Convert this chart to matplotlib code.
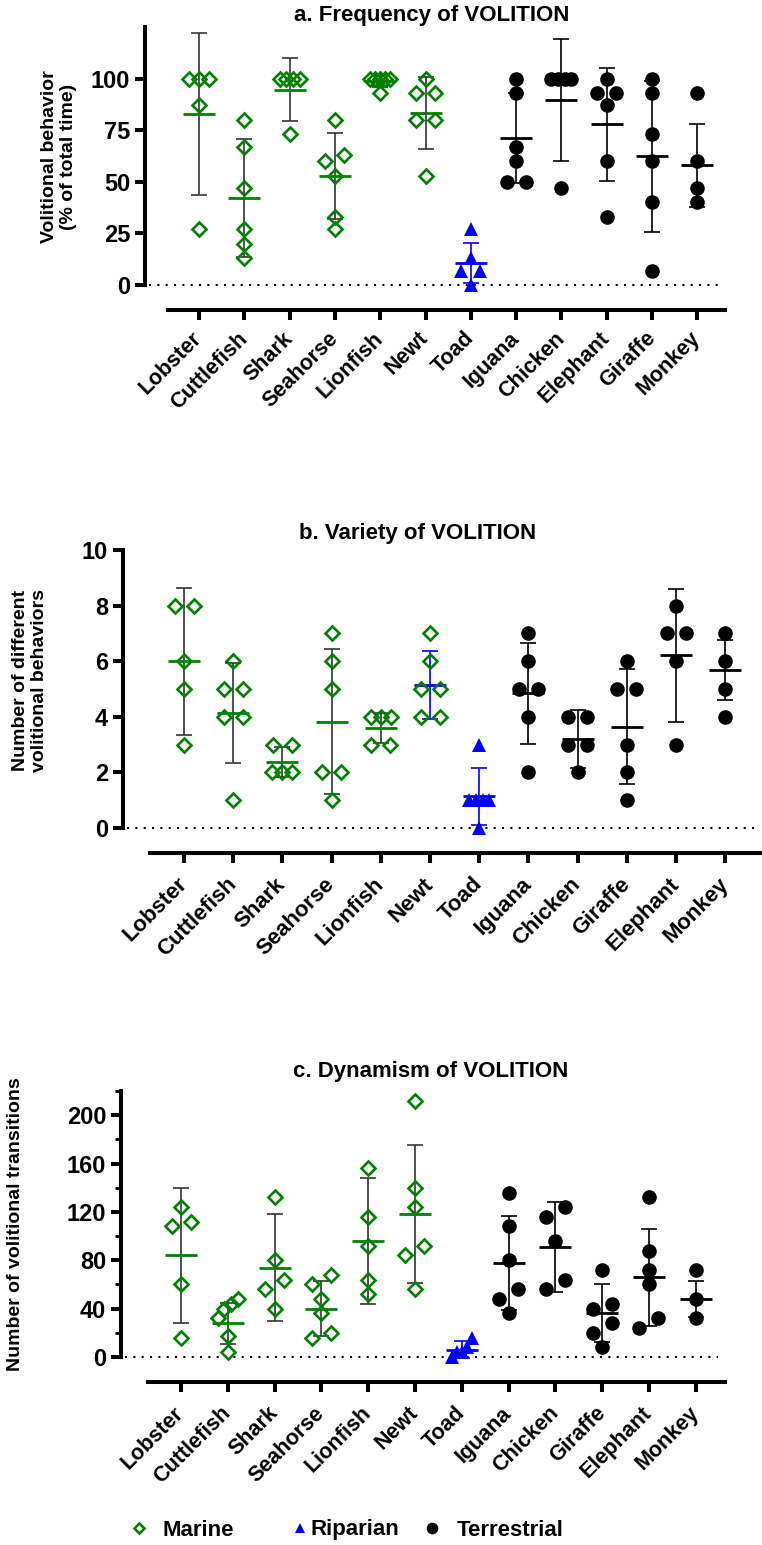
import numpy as np
import matplotlib
matplotlib.use('Agg')
import matplotlib.pyplot as plt
from matplotlib.lines import Line2D
from matplotlib.ticker import MultipleLocator

W, H, DPI = 762, 1545, 100
plt.rcParams['font.family'] = ['Liberation Sans', 'DejaVu Sans']
plt.rcParams['font.weight'] = 'bold'

# ---- data ----
cats_a = ['Lobster', 'Cuttlefish', 'Shark', 'Seahorse', 'Lionfish', 'Newt', 'Toad',
          'Iguana', 'Chicken', 'Elephant', 'Giraffe', 'Monkey']
cats_bc = ['Lobster', 'Cuttlefish', 'Shark', 'Seahorse', 'Lionfish', 'Newt', 'Toad',
           'Iguana', 'Chicken', 'Giraffe', 'Elephant', 'Monkey']
habitat = ['Marine'] * 6 + ['Riparian'] + ['Terrestrial'] * 5

freq_pts = [[100, 100, 100, 87, 27], [80, 67, 47, 27, 20, 13], [100, 100, 100, 100, 73],
            [80, 63, 60, 53, 33, 27], [100, 100, 100, 100, 100, 93], [100, 93, 93, 80, 80, 53],
            [27, 13, 7, 7, 0], [100, 93, 67, 60, 50, 50], [100, 100, 100, 100, 47],
            [100, 93, 93, 87, 60, 33], [100, 93, 73, 60, 40, 7], [93, 60, 47, 40]]
freq_mean = [82.8, 42.3, 94.7, 52.8, 98.8, 83.3, 10.6, 71.3, 89.6, 77.8, 62.3, 58.0]
freq_sd = [39.4, 28.5, 15.2, 20.8, 2.9, 17.5, 9.6, 21.7, 29.6, 27.2, 36.5, 20.0]

var_pts = [[8, 8, 6, 5, 3], [6, 5, 5, 4, 4, 1], [3, 3, 2, 2, 2], [7, 6, 5, 2, 2, 1],
           [4, 4, 4, 3, 3], [7, 6, 5, 5, 4, 4], [3, 1, 1, 1, 1, 0], [7, 6, 5, 5, 4, 2],
           [4, 4, 3, 3, 2], [6, 5, 5, 3, 2, 1], [8, 7, 7, 6, 3], [7, 6, 5, 4]]
var_mean = [6.0, 4.14, 2.38, 3.83, 3.6, 5.15, 1.14, 4.85, 3.21, 3.65, 6.21, 5.68]
var_sd = [2.65, 1.8, 0.55, 2.6, 0.55, 1.22, 1.03, 1.82, 1.05, 2.07, 2.4, 1.08]

dyn_pts = [[124, 112, 108, 60, 16], [48, 44, 40, 32, 17, 4], [132, 80, 64, 56, 40],
           [68, 60, 48, 36, 20, 16], [156, 116, 92, 64, 52], [212, 140, 124, 92, 84, 56],
           [16, 8, 4, 4, 0], [136, 108, 80, 56, 48, 36], [124, 116, 96, 64, 56],
           [72, 44, 40, 28, 20, 8], [132, 88, 72, 60, 32, 24], [72, 48, 32]]
dyn_mean = [84, 28, 74, 40, 96, 118, 6, 78, 91, 36, 66, 48]
dyn_sd = [56, 17, 44, 23, 52, 57, 7, 39, 37, 24, 40, 15]

GREEN, BLUE = '#008000', '#0000ff'
style = {
    'Marine': dict(marker='D', mfc='none', mec=GREEN, mew=1.9, ms=7, mean_c=GREEN, err_c='#333333'),
    'Riparian': dict(marker='^', mfc=BLUE, mec=BLUE, mew=0, ms=9.5, mean_c=BLUE, err_c=BLUE),
    'Terrestrial': dict(marker='o', mfc='black', mec='black', mew=0, ms=10.5, mean_c='black', err_c='black'),
}

fig = plt.figure(figsize=(W / DPI, H / DPI), dpi=DPI)


def fx(x):
    return x / W


def fy(y):
    return 1 - y / H


def spread_offsets(vals, px_per_unit, thr=11.0):
    # group points that would overlap vertically, spread them sideways (pixels)
    order = np.argsort(vals)[::-1]
    offs = np.zeros(len(vals))
    groups, cur = [], [order[0]]
    for i in order[1:]:
        if (vals[cur[-1]] - vals[i]) * px_per_unit < thr:
            cur.append(i)
        else:
            groups.append(cur)
            cur = [i]
    groups.append(cur)
    for g in groups:
        n = len(g)
        if n == 2:
            o = [9.5, -9.5]
        elif n > 2:
            o = np.linspace(10, -10, n)
        else:
            o = [0]
        for k, i in enumerate(g):
            offs[i] = o[k]
    return offs


def panel(left, top, right, bottom, first, step, ymax, cats, pts, means, sds,
          yticks, xfont, x_axis_start, zero_end, minor=None, err_over=None, xpad=13):
    ax = fig.add_axes([fx(left), fy(bottom), fx(right - left), (bottom - top) / H])
    x0 = (left - first) / step
    x1 = (right - first) / step
    ax.set_xlim(x0, x1)
    ax.set_ylim(0, ymax)
    ppu_y = (bottom - top) / ymax
    for i, (v, m, s) in enumerate(zip(pts, means, sds)):
        st = style[habitat[i]]
        ec = st['err_c']
        mc = st['mean_c']
        if err_over and cats[i] in err_over:
            ec = mc = err_over[cats[i]]
        ax.errorbar(i, m, yerr=s, fmt='none', ecolor=ec, elinewidth=1.2,
                    capsize=6, capthick=1.2, zorder=2, clip_on=False)
        ax.hlines(m, i - 16 / step, i + 16 / step, color=mc, lw=2.0, zorder=2, clip_on=False)
        v = np.array(v, dtype=float)
        xs = i + spread_offsets(v, ppu_y) / step
        ax.plot(xs, v, ls='none', marker=st['marker'], mfc=st['mfc'], mec=st['mec'],
                mew=st['mew'], ms=st['ms'], zorder=3, clip_on=False)
    ax.plot([x0 + 4 / step, (zero_end - first) / step], [0, 0], color='black',
            ls=(0, (1, 3)), lw=1.5, zorder=1, clip_on=False)

    for sp in ['top', 'right']:
        ax.spines[sp].set_visible(False)
    ax.spines['left'].set_linewidth(2.9)
    ax.spines['left'].set_bounds(0, ymax)
    ax.spines['bottom'].set_linewidth(2.9)
    ax.spines['bottom'].set_position(('outward', 18))
    ax.spines['bottom'].set_bounds((x_axis_start - first) / step, x1)
    ax.set_yticks(yticks)
    ax.set_yticklabels([str(t) for t in yticks], fontsize=17, fontweight='bold')
    if minor:
        ax.yaxis.set_minor_locator(MultipleLocator(minor))
        ax.tick_params(axis='y', which='minor', length=4, width=2.0)
    ax.set_xticks(range(len(cats)))
    ax.set_xticklabels(cats, rotation=45, ha='right', va='center', rotation_mode='anchor',
                       fontsize=xfont, fontweight='bold')
    ax.tick_params(axis='both', which='major', length=7.2, width=2.9, pad=3.5)
    ax.tick_params(axis='x', pad=xpad)
    ax.patch.set_visible(False)
    return ax


panel(145, 27, 725, 285, 199, 45.3, 125, cats_a, freq_pts, freq_mean, freq_sd,
      [0, 25, 50, 75, 100], 15.5, 168, 718, xpad=11)
panel(123, 550, 762, 828, 184, 49.2, 10, cats_bc, var_pts, var_mean, var_sd,
      [0, 2, 4, 6, 8, 10], 16, 150, 760, err_over={'Newt': BLUE})
panel(121, 1091, 725, 1357, 181, 46.8, 220, cats_bc, dyn_pts, dyn_mean, dyn_sd,
      [0, 40, 80, 120, 160, 200], 15.5, 148, 718, minor=20)

# titles
fig.text(fx(432), fy(15), 'a. Frequency of VOLITION', ha='center', va='center',
         fontsize=16, fontweight='bold')
fig.text(fx(418), fy(533), 'b. Variety of VOLITION', ha='center', va='center',
         fontsize=16, fontweight='bold')
fig.text(fx(431), fy(1072), 'c. Dynamism of VOLITION', ha='center', va='center',
         fontsize=16, fontweight='bold')

# y labels
fig.text(fx(59), fy(157), 'Volitional behavior\n(% of total time)', rotation=90,
         ha='center', va='center', multialignment='center', fontsize=14, fontweight='bold')
fig.text(fx(30), fy(680), 'Number of different\nvolitional behaviors', rotation=90,
         ha='center', va='center', multialignment='center', fontsize=14, fontweight='bold')
fig.text(fx(16), fy(1224), 'Number of volitional transitions', rotation=90,
         ha='center', va='center', fontsize=14, fontweight='bold')

# legend
leg_items = [('Marine', 138, 0.58), ('Riparian', 299, 0.0), ('Terrestrial', 431, 0.63)]
for name, xc, pad in leg_items:
    st = style[name]
    h = Line2D([], [], ls='none', marker=st['marker'], mfc=st['mfc'], mec=st['mec'],
               mew=st['mew'], ms=st['ms'] * 0.8)
    fs = 15
    hl = 1.0
    xl = xc - hl * fs * DPI / 72 / 2
    fig.legend(handles=[h], labels=[name], loc='center left', bbox_to_anchor=(fx(xl), fy(1530)),
               frameon=False, handlelength=hl, handletextpad=pad, borderpad=0,
               borderaxespad=0,
               prop=dict(family=['Liberation Sans Narrow', 'Liberation Sans'], size=16, weight='bold'))

fig.savefig('out.png', dpi=DPI)
